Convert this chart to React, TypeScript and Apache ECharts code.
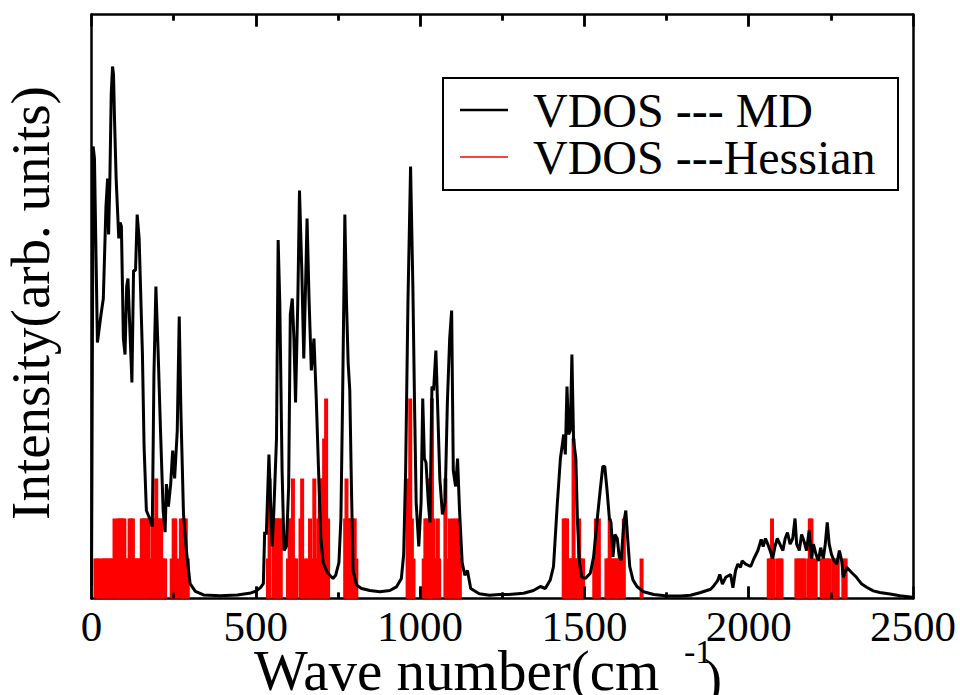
import React, { useEffect, useRef } from "react";
import * as echarts from "echarts";

// ---- MD VDOS (black line): wave number (cm^-1) and intensity (arb. units)
const mdWave = [
  0, 5, 9, 18, 29, 36, 44, 49, 52, 56, 60, 64, 67, 70, 75, 83, 87, 91, 97, 102,
  107, 111, 116, 123, 128, 134, 139, 145, 155, 160, 167, 177, 185, 190, 196, 203, 210, 218, 224, 228,
  234, 241, 247, 253, 261, 267, 272, 280, 290, 300, 316, 341, 392, 444, 485, 500, 515, 523, 527, 532,
  540, 545, 550, 555, 563, 568, 573, 580, 586, 593, 600, 605, 611, 616, 621, 628, 633, 640, 646, 652,
  656, 662, 669, 677, 684, 691, 698, 705, 715, 725, 735, 743, 753, 759, 764, 771, 776, 781, 786, 791,
  796, 807, 822, 847, 877, 908, 928, 943, 950, 956, 963, 968, 971, 978, 983, 988, 996, 1003, 1008, 1013,
  1018, 1025, 1030, 1036, 1041, 1048, 1053, 1060, 1068, 1076, 1083, 1090, 1096, 1101, 1108, 1114, 1120, 1128, 1136, 1144,
  1154, 1180, 1211, 1241, 1270, 1315, 1345, 1366, 1381, 1396, 1406, 1417, 1427, 1437, 1442, 1447, 1452, 1457, 1462, 1467,
  1474, 1479, 1485, 1492, 1503, 1518, 1528, 1538, 1548, 1556, 1562, 1569, 1576, 1581, 1587, 1593, 1600, 1606, 1612, 1620,
  1626, 1632, 1638, 1648, 1660, 1680, 1711, 1752, 1793, 1823, 1854, 1884, 1894, 1905, 1912, 1920, 1930, 1945, 1952, 1960,
  1967, 1975, 1980, 1991, 2006, 2016, 2028, 2038, 2044, 2051, 2058, 2065, 2073, 2080, 2087, 2095, 2104, 2111, 2118, 2126,
  2134, 2141, 2146, 2154, 2161, 2168, 2176, 2184, 2191, 2197, 2205, 2212, 2219, 2227, 2233, 2239, 2245, 2252, 2260, 2268,
  2276, 2283, 2288, 2298, 2313, 2328, 2344, 2359, 2379, 2399, 2430, 2460, 2491, 2500,
];
const mdIntensity = [
  0.3, 11.3, 11.0, 6.4, 7.1, 7.5, 9.8, 10.5, 9.1, 10.5, 12.6, 13.3, 13.1, 12.0, 10.5, 9.0, 9.4, 9.3, 6.5, 6.1,
  7.8, 8.0, 6.9, 5.4, 8.2, 8.2, 9.6, 9.0, 6.1, 3.8, 2.2, 2.0, 1.8, 5.6, 7.8, 6.1, 4.2, 2.2, 1.66, 2.86,
  2.3, 2.86, 3.7, 3.0, 4.2, 7.05, 4.7, 2.1, 1.1, 0.37, 0.18, 0.09, 0.07, 0.09, 0.14, 0.18, 0.28, 0.37, 1.67, 1.6,
  3.6, 2.4, 1.3, 2.2, 4.0, 8.96, 7.4, 3.2, 1.2, 1.3, 2.8, 7.1, 7.5, 6.5, 4.9, 7.5, 10.2, 8.2, 6.0, 8.0,
  9.5, 7.5, 5.7, 6.5, 5.0, 3.2, 1.5, 0.9, 0.7, 0.58, 0.5, 0.58, 0.9, 2.0, 4.9, 9.6, 7.4, 5.9, 5.2, 2.8,
  0.7, 0.33, 0.25, 0.2, 0.17, 0.2, 0.29, 0.5, 1.1, 3.2, 7.4, 9.5, 10.8, 7.8, 4.9, 2.4, 1.3, 2.4, 5.0, 3.5,
  3.4, 2.4, 1.9, 5.3, 5.2, 6.2, 4.9, 3.0, 2.1, 2.4, 4.9, 6.5, 7.2, 3.2, 2.8, 3.5, 2.2, 0.9, 0.58, 0.7,
  0.25, 0.12, 0.08, 0.1, 0.1, 0.13, 0.2, 0.3, 0.25, 0.46, 0.8, 2.3, 3.5, 4.1, 3.6, 5.3, 4.1, 4.2, 6.1, 3.96,
  3.5, 1.9, 0.9, 0.54, 0.5, 0.63, 1.04, 1.9, 2.7, 3.3, 3.3, 2.7, 2.0, 1.9, 1.04, 1.6, 1.5, 1.04, 0.96, 1.9,
  2.2, 1.46, 0.8, 0.46, 0.3, 0.17, 0.1, 0.06, 0.06, 0.08, 0.15, 0.23, 0.32, 0.44, 0.6, 0.36, 0.53, 0.6, 0.27, 0.7,
  0.86, 0.78, 0.94, 0.86, 0.8, 1.0, 1.2, 1.48, 1.3, 1.5, 1.36, 1.2, 1.0, 1.3, 1.5, 1.36, 1.2, 1.5, 1.65, 1.36,
  1.5, 2.0, 1.36, 1.2, 1.6, 1.44, 1.2, 1.7, 1.0, 1.36, 1.1, 0.94, 1.27, 1.0, 1.36, 1.9, 1.36, 1.1, 0.94, 0.86,
  1.2, 0.94, 0.53, 0.78, 0.65, 0.53, 0.36, 0.28, 0.19, 0.15, 0.11, 0.07, 0.04, 0.03,
];

// ---- Hessian VDOS (red sticks): mode frequency (cm^-1) and count
const hessWave = [
  12, 18, 24, 33, 38, 43, 48, 53, 58, 63, 70, 75, 80, 85, 90, 95, 100, 105, 110, 116,
  121, 126, 131, 137, 142, 147, 153, 158, 163, 168, 174, 180, 187, 192, 197, 202, 207, 212, 218, 224,
  244, 250, 255, 262, 272, 277, 282, 287, 293,
  537, 542, 555, 560, 565, 570, 576, 598, 603, 608, 613, 618, 623, 636, 641, 650, 657, 665, 672, 678,
  684, 690, 695, 703, 708, 714, 720,
  772, 776, 781, 786, 791, 796, 801, 806,
  962, 967, 970, 975, 980, 1011, 1016, 1021, 1030, 1036, 1041, 1046, 1054, 1058, 1077, 1082, 1090, 1095, 1100, 1108,
  1113, 1117, 1121,
  1437, 1442, 1447, 1452, 1457, 1462, 1467, 1473, 1478, 1484, 1490, 1496, 1530, 1535, 1544, 1567, 1572, 1577, 1584, 1590,
  1596, 1601, 1610, 1620, 1674,
  2061, 2066, 2071, 2076, 2088, 2094, 2100, 2145, 2151, 2158, 2164, 2170, 2182, 2186, 2191, 2196, 2204, 2222, 2228, 2234,
  2240, 2246, 2257, 2263, 2271, 2288, 2295,
];
const hessCount = [
  1, 1, 1, 1, 1, 1, 1, 1, 1, 1, 2, 1, 2, 2, 2, 2, 2, 1, 1, 2,
  2, 2, 1, 1, 1, 1, 2, 2, 2, 2, 2, 1, 2, 2, 3, 2, 2, 2, 1, 1,
  1, 2, 2, 1, 2, 2, 2, 2, 1,
  1, 3, 2, 2, 2, 2, 2, 1, 2, 2, 3, 1, 1, 2, 3, 1, 1, 2, 1, 3,
  1, 2, 3, 3, 4, 5, 2,
  2, 3, 2, 2, 2, 2, 2, 1,
  3, 1, 5, 2, 1, 1, 2, 2, 3, 5, 2, 1, 2, 1, 3, 1, 2, 1, 2, 2,
  1, 2, 1,
  2, 2, 2, 1, 1, 1, 4, 1, 1, 2, 1, 1, 1, 2, 2, 1, 1, 2, 1, 1,
  1, 1, 1, 2, 1,
  1, 1, 2, 1, 1, 1, 1, 1, 1, 1, 1, 1, 1, 2, 2, 1, 1, 1, 1, 1,
  1, 1, 1, 1, 1, 1, 1,
];

const xTickValues = [0, 500, 1000, 1500, 2000, 2500];
const yMax = 14.6;
const seriesNames = ["VDOS --- MD", "VDOS ---Hessian"];
const yTitle = "Intensity(arb. units)";
const xTitleMain = "Wave number(cm";
const xTitleSup = "-1";
const xTitleEnd = ")";

const SERIF = "Liberation Serif, Times New Roman, serif";

export default function App() {
  const ref = useRef<HTMLDivElement>(null);
  useEffect(() => {
    if (!ref.current) return;
    document.body.style.margin = "0";
    const chart = echarts.init(ref.current, undefined, { renderer: "svg" });
    const md = mdWave.map((w, i) => [w, mdIntensity[i]]);
    const hess = hessWave.map((w, i) => [w, hessCount[i]]);

    // plot height in px is 584 for yMax units -> tick lengths in data units
    const pxPerUnit = 584 / yMax;
    const majorLen = 12 / pxPerUnit;
    const minorLen = 6 / pxPerUnit;
    const tickLines: any[] = [];
    xTickValues.forEach((v, i) => {
      const vals: [number, number][] = [[v, majorLen]];
      if (i < xTickValues.length - 1) vals.push([(v + xTickValues[i + 1]) / 2, minorLen]);
      vals.forEach(([tv, len]) => {
        if (tv === xTickValues[0] || tv === xTickValues[xTickValues.length - 1]) return;
        tickLines.push([{ coord: [tv, 0] }, { coord: [tv, len] }]);
        tickLines.push([{ coord: [tv, yMax] }, { coord: [tv, yMax - len] }]);
      });
    });

    const axisCommon = {
      type: "value",
      min: xTickValues[0],
      max: xTickValues[xTickValues.length - 1],
      interval: 500,
      splitLine: { show: false },
      axisLine: { show: true, onZero: false, lineStyle: { color: "#000", width: 2.5 } },
      axisTick: { show: true, inside: true, length: 12, lineStyle: { color: "#000", width: 2.5 } },
      minorTick: { show: true, splitNumber: 2, length: 6, lineStyle: { color: "#000", width: 2.5 } },
    };
    const txt = (text: string, x: number, y: number, size: number, align: string, rotation = 0) => ({
      type: "text",
      x,
      y,
      rotation,
      z: 10,
      style: {
        text,
        font: `${size}px ${SERIF}`,
        fill: "#000",
        align,
        verticalAlign: "middle",
        textAlign: align,
        textVerticalAlign: "middle",
      },
    });
    chart.setOption({
      animation: false,
      backgroundColor: "#fff",
      grid: { left: 91.5, right: 47, top: 14.5, bottom: 96.5, containLabel: false },
      xAxis: [
        {
          ...axisCommon,
          position: "bottom",
          axisLabel: {
            show: true,
            color: "#000",
            fontFamily: SERIF,
            fontSize: 43,
            margin: 6,
            formatter: (v: number) => String(v),
          },
        },
        { ...axisCommon, position: "top", axisLabel: { show: false } },
      ],
      yAxis: [
        {
          type: "value", min: 0, max: yMax, position: "left",
          axisLine: { show: true, onZero: false, lineStyle: { color: "#000", width: 2.5 } },
          axisTick: { show: false }, axisLabel: { show: false }, splitLine: { show: false },
        },
        {
          type: "value", min: 0, max: yMax, position: "right",
          axisLine: { show: true, onZero: false, lineStyle: { color: "#000", width: 2.5 } },
          axisTick: { show: false }, axisLabel: { show: false }, splitLine: { show: false },
        },
      ],
      series: [
        {
          name: seriesNames[1],
          type: "bar",
          data: hess,
          barWidth: 4,
          itemStyle: { color: "#ff0000" },
          xAxisIndex: 0,
          yAxisIndex: 0,
        },
        {
          name: seriesNames[0],
          type: "line",
          data: md,
          symbol: "none",
          showSymbol: false,
          lineStyle: { color: "#000", width: 3 },
          xAxisIndex: 0,
          yAxisIndex: 0,
          z: 3,
          markLine: {
            silent: true,
            symbol: ["none", "none"],
            label: { show: false },
            lineStyle: { color: "#000", width: 2.5, type: "solid" },
            emphasis: { disabled: true },
            data: tickLines,
          },
        },
      ],
      graphic: [
        {
          type: "rect",
          shape: { x: 443, y: 78, width: 455, height: 112 },
          style: { fill: "#fff", stroke: "#000", lineWidth: 2 },
          z: 9,
        },
        { type: "line", shape: { x1: 460, y1: 110, x2: 508, y2: 110 }, style: { stroke: "#000", lineWidth: 2.5 }, z: 10 },
        { type: "line", shape: { x1: 460, y1: 157, x2: 508, y2: 157 }, style: { stroke: "#ff0000", lineWidth: 1.5 }, z: 10 },
        txt(seriesNames[0], 533, 110, 48, "left"),
        txt(seriesNames[1], 533, 157, 48, "left"),
        txt(yTitle, 30, 303, 55, "center", Math.PI / 2),
        txt(xTitleMain, 254, 670, 57, "left"),
        txt(xTitleSup, 684, 651, 34, "left"),
        txt(xTitleEnd, 704, 679, 54, "left"),
      ],
    });
    return () => chart.dispose();
  }, []);
  return <div ref={ref} style={{ width: 960, height: 695 }} />;
}
